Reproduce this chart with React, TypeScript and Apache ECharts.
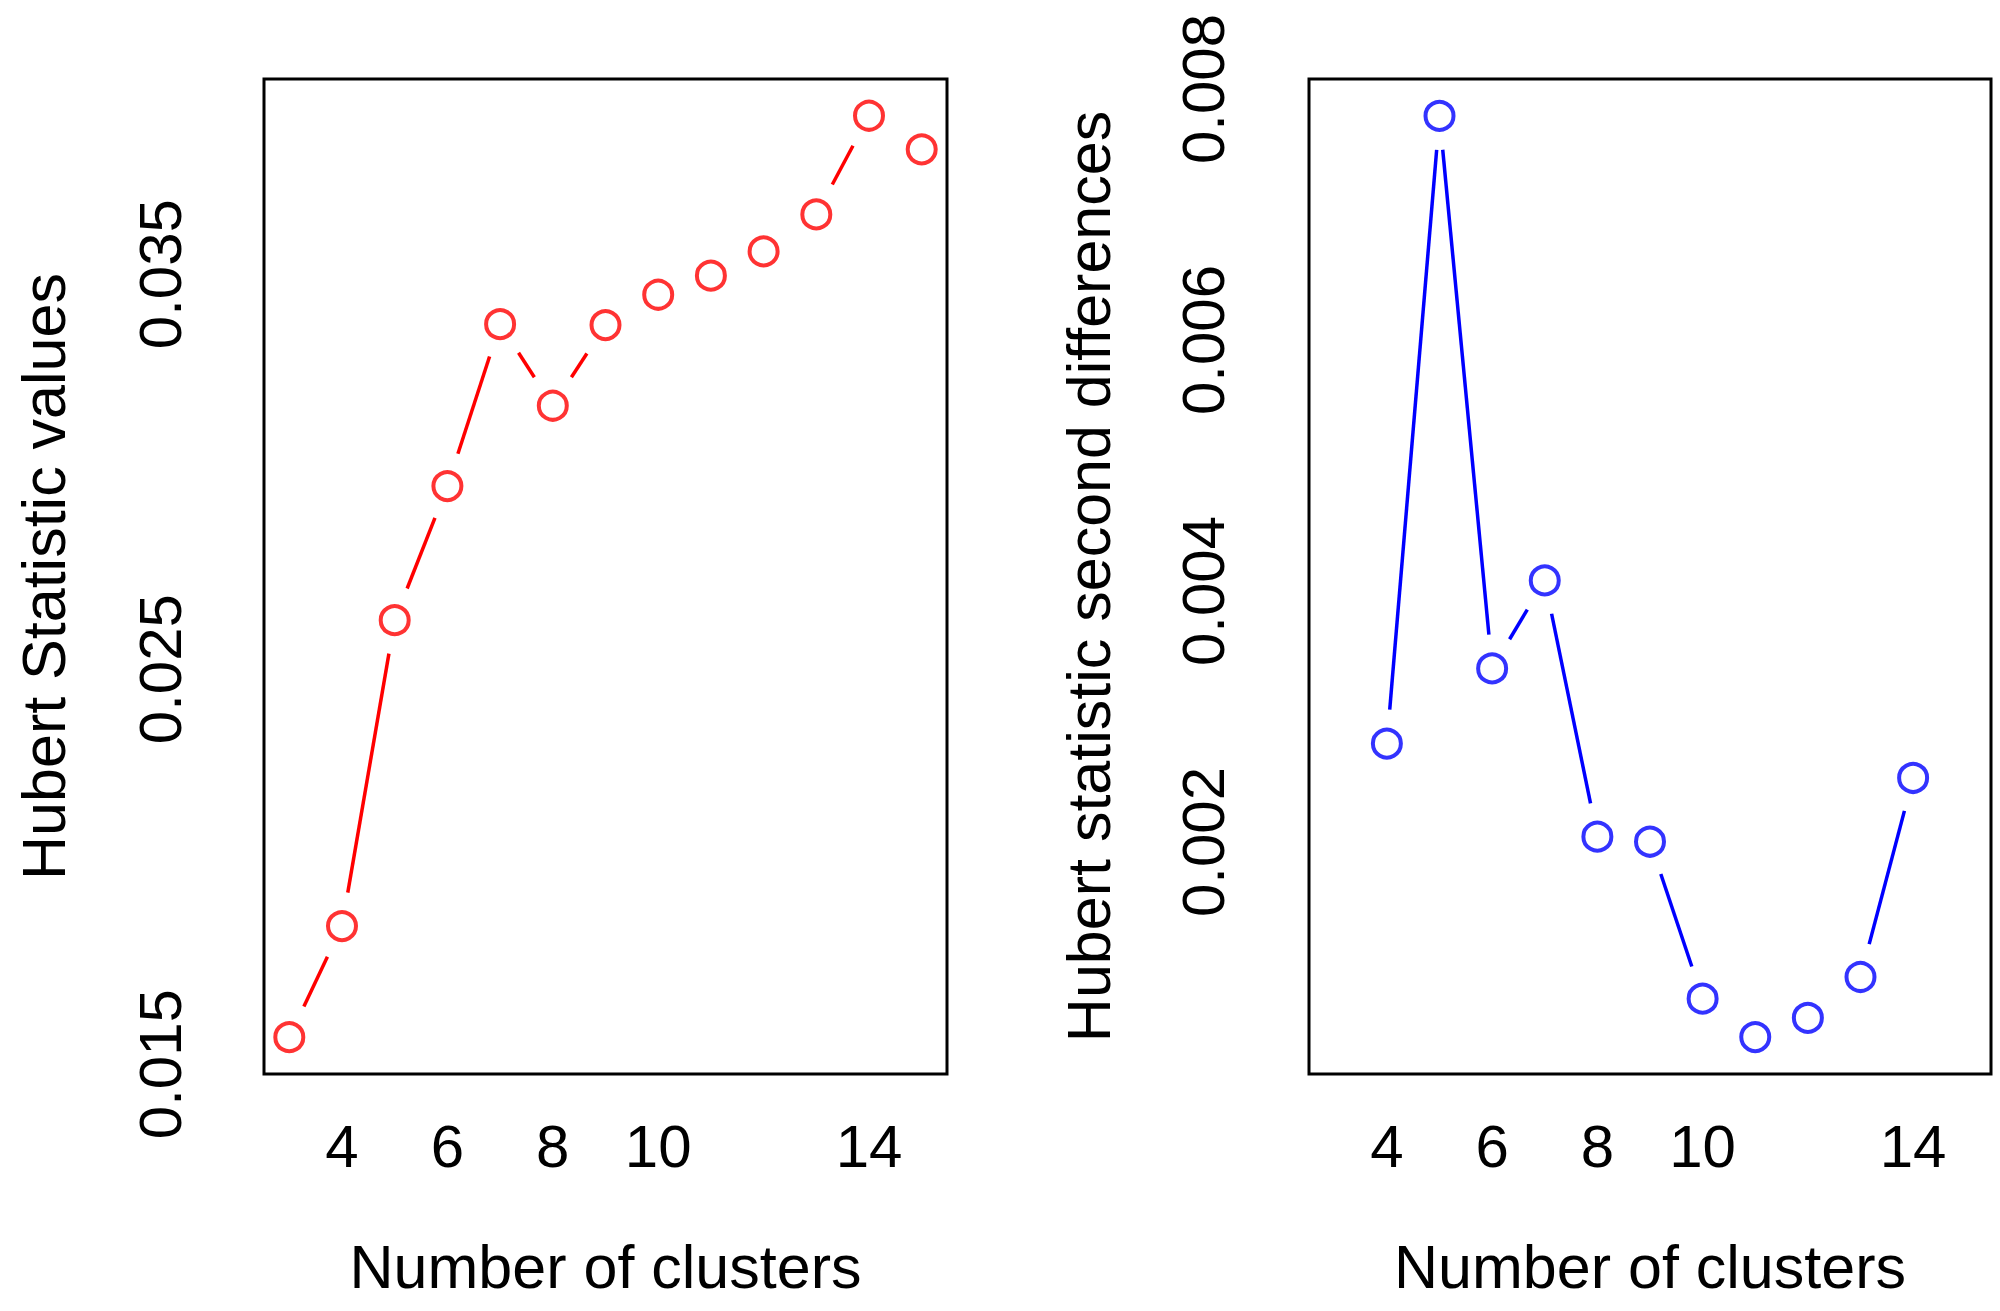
import React, { useEffect, useRef } from "react";
import * as echarts from "echarts";

// ---- data ----
const clusters = [3, 4, 5, 6, 7, 8, 9, 10, 11, 12, 13, 14, 15];
const hubertValues = [
  0.015683, 0.018494, 0.02624, 0.029633, 0.033734, 0.031668, 0.033709,
  0.034478, 0.034962, 0.035575, 0.036511, 0.03901, 0.038159,
];
const diffClusters = [4, 5, 6, 7, 8, 9, 10, 11, 12, 13, 14];
const hubertDiffs = [
  0.002784, 0.007786, 0.003383, 0.004084, 0.002042, 0.002002, 0.000751,
  0.000445, 0.000598, 0.000924, 0.00251,
];
const xTicks = [4, 6, 8, 10, 14];
const leftYTicks = [0.015, 0.025, 0.035];
const rightYTicks = [0.002, 0.004, 0.006, 0.008];
const xTitle = "Number of clusters";
const leftYTitle = "Hubert Statistic values";
const rightYTitle = "Hubert statistic second differences";

const FONT = "'Liberation Sans', Arial, Helvetica, sans-serif";
const GAP = 34;

function segments(xs: number[], ys: number[]) {
  const out: number[][] = [];
  for (let i = 0; i < xs.length - 1; i++) {
    out.push([xs[i], ys[i], xs[i + 1], ys[i + 1]]);
  }
  return out;
}

function makeRender(color: string) {
  return (params: any, api: any) => {
    const p1 = api.coord([api.value(0), api.value(1)]);
    const p2 = api.coord([api.value(2), api.value(3)]);
    const dx = p2[0] - p1[0];
    const dy = p2[1] - p1[1];
    const len = Math.sqrt(dx * dx + dy * dy);
    if (len <= 2 * GAP + 2) return null;
    const ux = dx / len;
    const uy = dy / len;
    return {
      type: "line",
      shape: {
        x1: p1[0] + ux * GAP,
        y1: p1[1] + uy * GAP,
        x2: p2[0] - ux * GAP,
        y2: p2[1] - uy * GAP,
      },
      style: { stroke: color, lineWidth: 3.5 },
    };
  };
}

export default function App() {
  const ref = useRef<HTMLDivElement>(null);
  useEffect(() => {
    if (!ref.current) return;
    const chart = echarts.init(ref.current, undefined, { renderer: "svg" });
    const axisLabelBase = {
      color: "#000",
      fontSize: 60,
      fontFamily: FONT,
    };
    const xAxisCommon = {
      type: "value" as const,
      min: 2.52,
      max: 15.48,
      axisLine: { show: false },
      axisTick: { show: false },
      splitLine: { show: false },
      axisLabel: {
        ...axisLabelBase,
        margin: 42,
        customValues: xTicks,
        formatter: (v: number) => String(v),
      },
      name: xTitle,
      nameLocation: "middle" as const,
      nameGap: 162,
      nameTextStyle: { color: "#000", fontSize: 61, fontFamily: FONT },
    };
    chart.setOption({
      animation: false,
      backgroundColor: "#fff",
      grid: [
        {
          left: 264,
          top: 79,
          width: 683,
          height: 995,
          show: true,
          borderColor: "#000",
          borderWidth: 3,
          backgroundColor: "transparent",
        },
        {
          left: 1309,
          top: 79,
          width: 682,
          height: 995,
          show: true,
          borderColor: "#000",
          borderWidth: 3,
          backgroundColor: "transparent",
        },
      ],
      xAxis: [
        { ...xAxisCommon, gridIndex: 0 },
        { ...xAxisCommon, gridIndex: 1 },
      ],
      yAxis: [
        {
          type: "value",
          gridIndex: 0,
          min: 0.01475,
          max: 0.03994,
          axisLine: { show: false },
          axisTick: { show: false },
          splitLine: { show: false },
          axisLabel: {
            ...axisLabelBase,
            rotate: 90,
            margin: 74,
            customValues: leftYTicks,
            formatter: (v: number) => v.toFixed(3),
          },
          name: leftYTitle,
          nameLocation: "middle",
          nameGap: 190,
          nameRotate: 90,
          nameTextStyle: { color: "#000", fontSize: 61, fontFamily: FONT },
        },
        {
          type: "value",
          gridIndex: 1,
          min: 0.000151,
          max: 0.00808,
          axisLine: { show: false },
          axisTick: { show: false },
          splitLine: { show: false },
          axisLabel: {
            ...axisLabelBase,
            rotate: 90,
            margin: 76,
            customValues: rightYTicks,
            formatter: (v: number) => v.toFixed(3),
          },
          name: rightYTitle,
          nameLocation: "middle",
          nameGap: 190,
          nameRotate: 90,
          nameTextStyle: { color: "#000", fontSize: 61, fontFamily: FONT },
        },
      ],
      series: [
        {
          type: "custom",
          xAxisIndex: 0,
          yAxisIndex: 0,
          renderItem: makeRender("#FF0000"),
          encode: { x: [0, 2], y: [1, 3] },
          data: segments(clusters, hubertValues),
          silent: true,
        },
        {
          type: "scatter",
          xAxisIndex: 0,
          yAxisIndex: 0,
          symbol: "circle",
          symbolSize: 28,
          itemStyle: {
            color: "rgba(0,0,0,0)",
            borderColor: "#FF0000",
            borderWidth: 4,
          },
          data: clusters.map((c, i) => [c, hubertValues[i]]),
        },
        {
          type: "custom",
          xAxisIndex: 1,
          yAxisIndex: 1,
          renderItem: makeRender("#0000FF"),
          encode: { x: [0, 2], y: [1, 3] },
          data: segments(diffClusters, hubertDiffs),
          silent: true,
        },
        {
          type: "scatter",
          xAxisIndex: 1,
          yAxisIndex: 1,
          symbol: "circle",
          symbolSize: 28,
          itemStyle: {
            color: "rgba(0,0,0,0)",
            borderColor: "#0000FF",
            borderWidth: 4,
          },
          data: diffClusters.map((c, i) => [c, hubertDiffs[i]]),
        },
      ],
    });
    return () => chart.dispose();
  }, []);
  return (
    <div
      ref={ref}
      style={{
        position: "absolute",
        left: 0,
        top: 0,
        width: 2000,
        height: 1311,
        background: "#fff",
      }}
    />
  );
}
